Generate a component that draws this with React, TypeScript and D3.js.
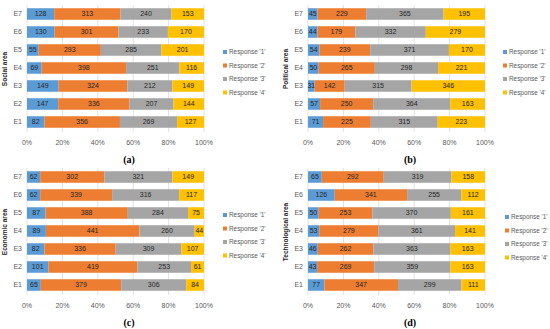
import React from "react";
import * as d3 from "d3";

const categories = ["E1", "E2", "E3", "E4", "E5", "E6", "E7"];
const responses = ["Response '1'", "Response '2'", "Response '3'", "Response '4'"];
const ticks = [0, 0.2, 0.4, 0.6, 0.8, 1];

// rows E1..E7, columns response 1..4
const social = [
  [82, 356, 269, 127],
  [147, 336, 207, 144],
  [149, 324, 212, 149],
  [69, 398, 251, 116],
  [55, 293, 285, 201],
  [130, 301, 233, 170],
  [128, 313, 240, 153],
];
const political = [
  [71, 225, 315, 223],
  [57, 250, 364, 163],
  [31, 142, 315, 346],
  [50, 265, 298, 221],
  [54, 239, 371, 170],
  [44, 179, 332, 279],
  [45, 229, 365, 195],
];
const economic = [
  [65, 379, 306, 84],
  [101, 419, 253, 61],
  [82, 336, 309, 107],
  [89, 441, 260, 44],
  [87, 388, 284, 75],
  [62, 339, 316, 117],
  [62, 302, 321, 149],
];
const technological = [
  [77, 347, 299, 111],
  [43, 269, 359, 163],
  [46, 262, 363, 163],
  [53, 279, 361, 141],
  [50, 253, 370, 161],
  [126, 341, 255, 112],
  [65, 292, 319, 158],
];

const colors = ["#5B9BD5", "#ED7D31", "#A5A5A5", "#FFC000"];
const font = "'Liberation Sans', Arial, sans-serif";

type PanelProps = {
  data: number[][];
  title: string;
  tag: string;
  x0: number;
  y0: number;
  legendX: number;
  legendY: number;
};

const Panel = ({ data, title, tag, x0, y0, legendX, legendY }: PanelProps) => {
  const x = d3.scaleLinear().domain([0, 1]).range([x0, x0 + 177]);
  const y = d3
    .scaleBand()
    .domain(categories.slice().reverse())
    .range([y0, y0 + 126])
    .paddingInner(0.36)
    .paddingOuter(0.18);

  const rows = data.map((d, i) => {
    const o: any = { cat: categories[i] };
    d.forEach((v, j) => (o["r" + j] = v));
    return o;
  });
  const series = d3
    .stack<any>()
    .keys(["r0", "r1", "r2", "r3"])
    .offset(d3.stackOffsetExpand)(rows);

  const bottom = y0 + 127;
  return (
    <g>
      {ticks.map((t) => (
        <line key={t} x1={x(t)} x2={x(t)} y1={y0} y2={bottom} stroke="#D9D9D9" strokeWidth={0.8} />
      ))}
      {series.map((s, j) =>
        s.map((seg, i) => {
          const cat = rows[i].cat;
          const w = x(seg[1]) - x(seg[0]);
          return (
            <g key={j + "-" + i}>
              <rect x={x(seg[0])} y={y(cat)} width={w} height={y.bandwidth()} fill={colors[j]} />
              <text
                x={x(seg[0]) + w / 2}
                y={(y(cat) as number) + y.bandwidth() / 2}
                dy="0.35em"
                textAnchor="middle"
                fontSize={7}
                fill="#262626"
              >
                {data[i][j]}
              </text>
            </g>
          );
        })
      )}
      {categories.map((c) => (
        <text
          key={c}
          x={x0 - 5}
          y={(y(c) as number) + y.bandwidth() / 2}
          dy="0.35em"
          textAnchor="end"
          fontSize={7}
          fill="#595959"
        >
          {c}
        </text>
      ))}
      {ticks.map((t) => (
        <text key={t} x={x(t)} y={bottom + 13} textAnchor="middle" fontSize={7} fill="#595959">
          {d3.format(".0%")(t)}
        </text>
      ))}
      <text
        transform={`translate(${x0 - 20},${y0 + 64}) rotate(-90)`}
        textAnchor="middle"
        fontSize={6.5}
        fontWeight="bold"
        fill="#262626"
      >
        {title}
      </text>
      {responses.map((r, j) => (
        <g key={r} transform={`translate(${legendX},${legendY + j * 13.5})`}>
          <rect x={0} y={-2} width={4} height={4} fill={colors[j]} />
          <text x={6} y={0} dy="0.35em" fontSize={6.4} fill="#595959">
            {r}
          </text>
        </g>
      ))}
      <text
        x={x0 + 102}
        y={bottom + 31}
        textAnchor="middle"
        fontSize={10}
        fontWeight="bold"
        fontFamily="'Liberation Serif', 'Times New Roman', serif"
        fill="#000"
      >
        {tag}
      </text>
    </g>
  );
};

export default function App() {
  return (
    <svg
      width={550}
      height={329}
      style={{ position: "absolute", left: 0, top: 0, background: "#fff" }}
      fontFamily={font}
    >
      <Panel data={social} title="Social area" tag="(a)" x0={27} y0={5} legendX={223} legendY={52} />
      <Panel data={political} title="Political area" tag="(b)" x0={308} y0={5} legendX={503} legendY={52} />
      <Panel data={economic} title="Economic area" tag="(c)" x0={27} y0={168} legendX={223} legendY={215} />
      <Panel data={technological} title="Technological area" tag="(d)" x0={308} y0={168} legendX={505} legendY={217} />
    </svg>
  );
}
